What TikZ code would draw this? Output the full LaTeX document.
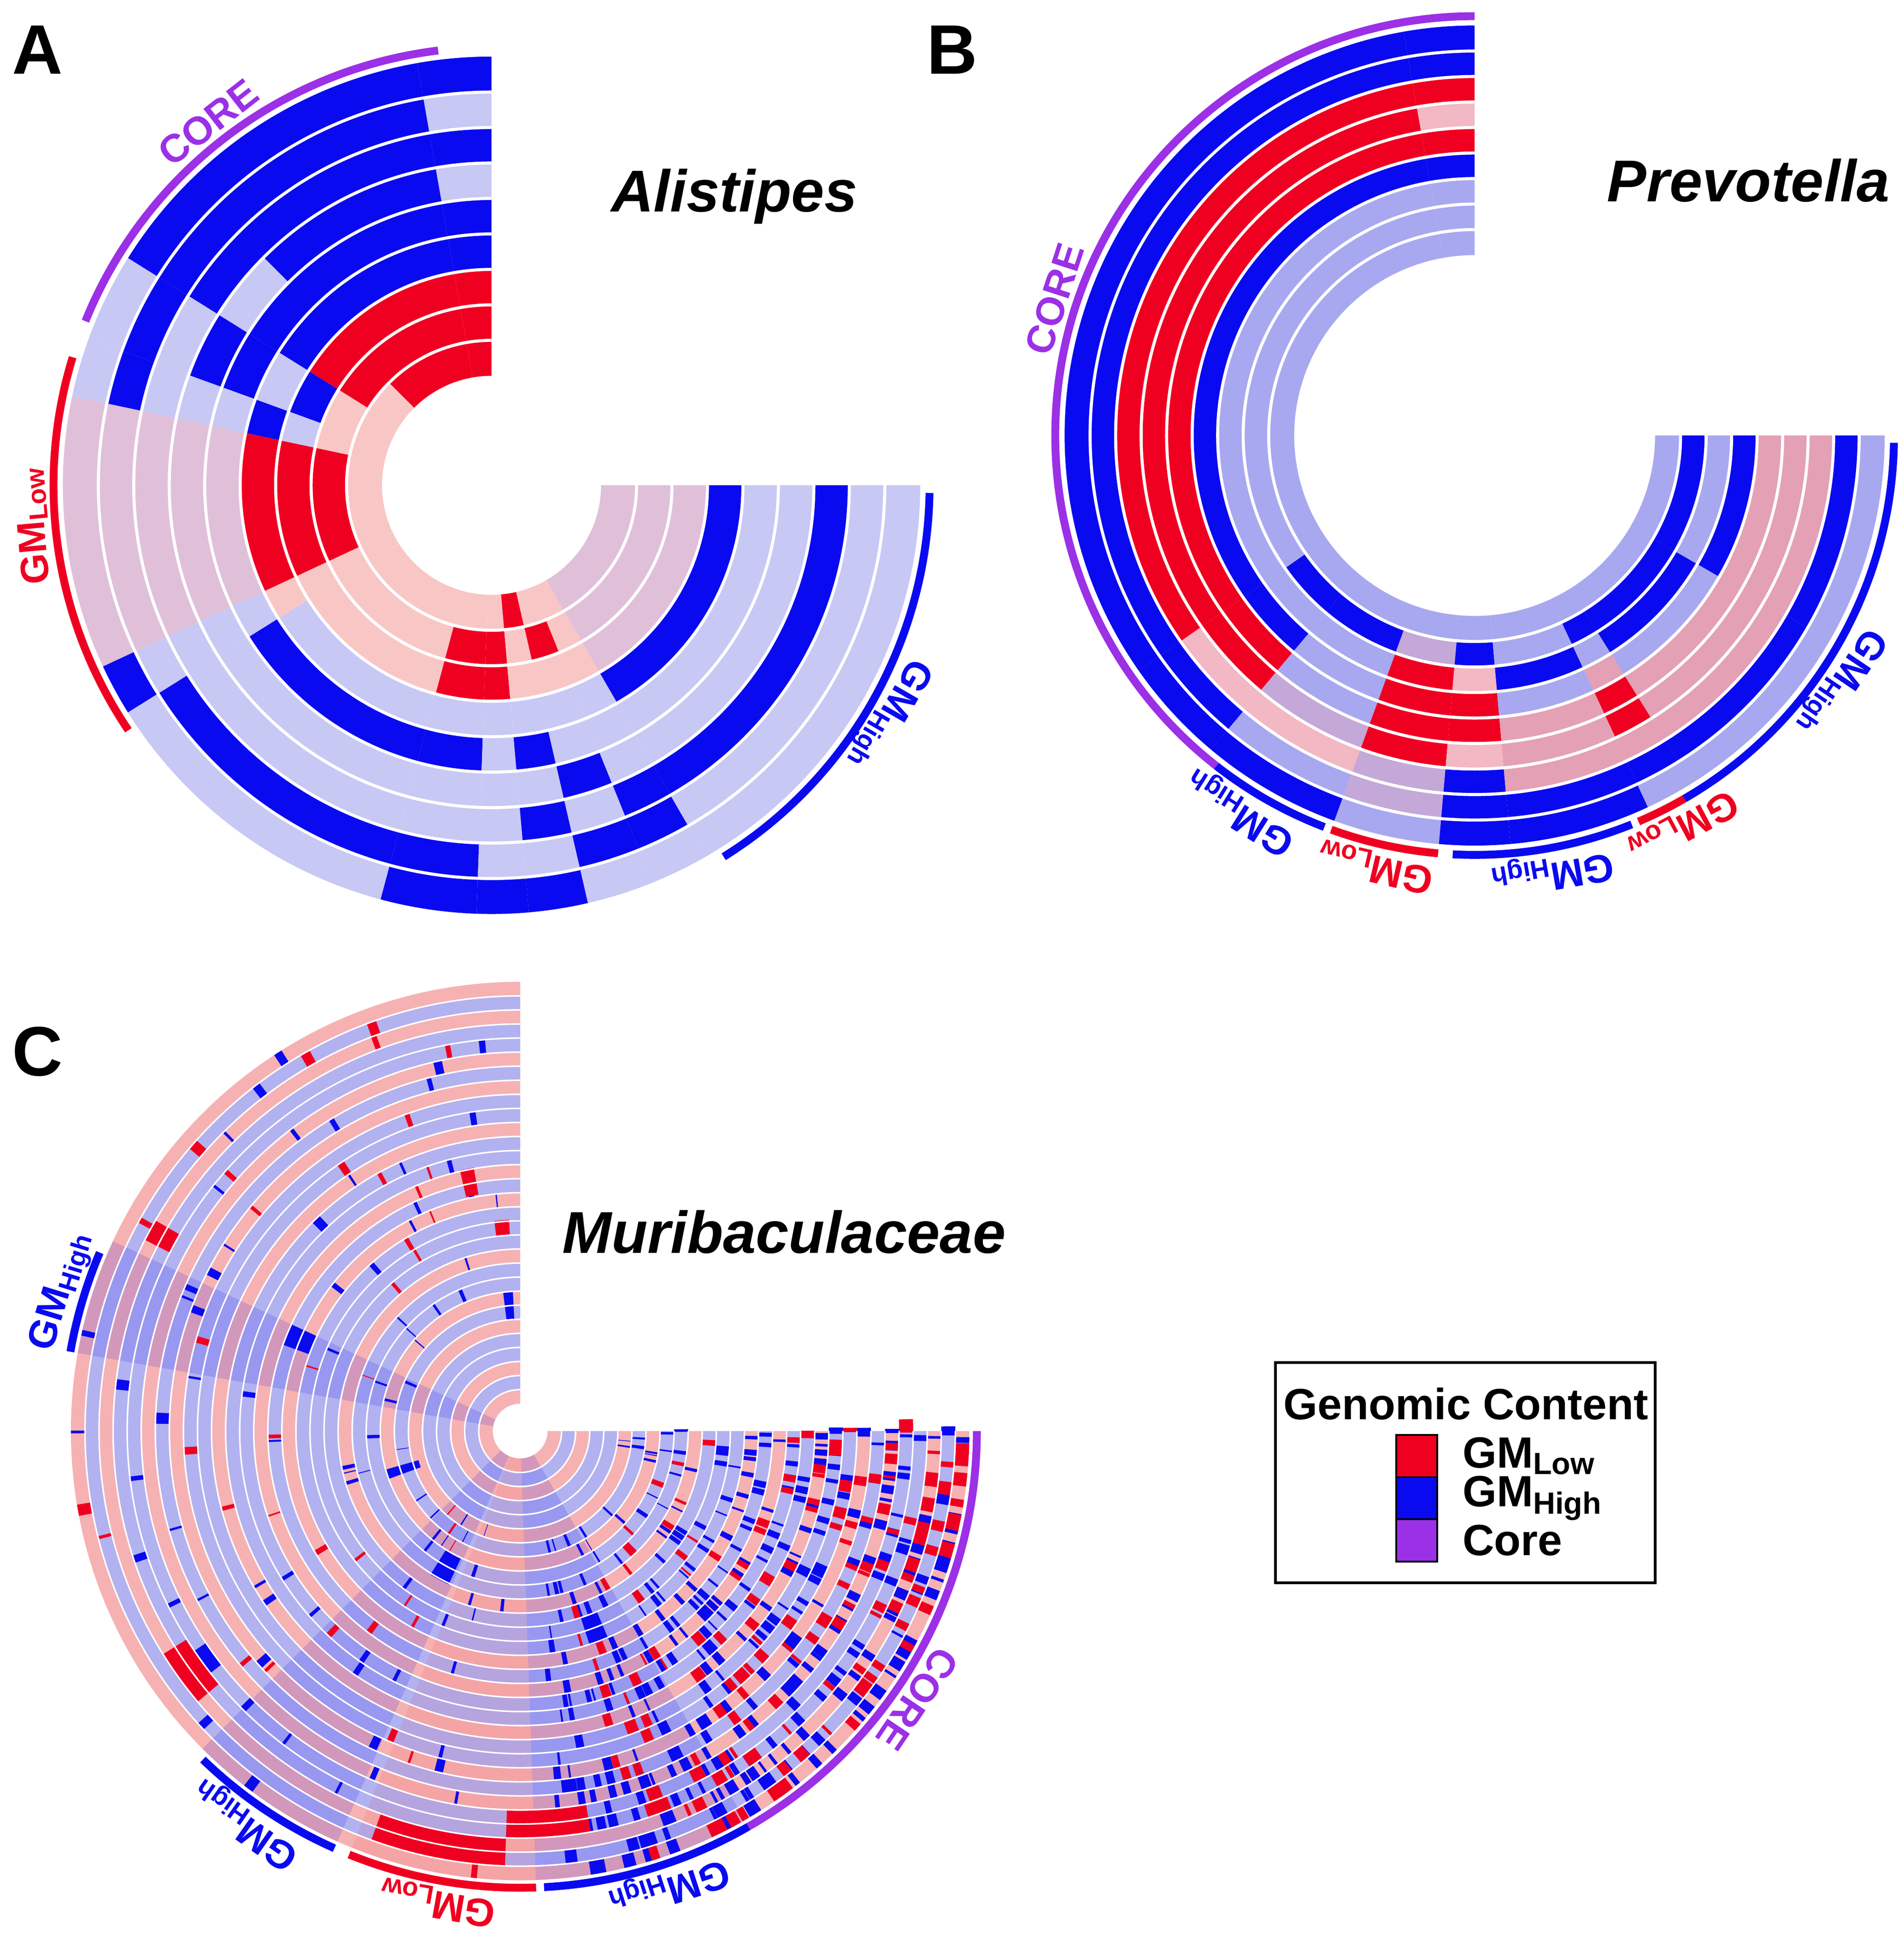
\documentclass[tikz,border=0pt]{standalone}
\usepackage{fontspec}
\setmainfont{Liberation Sans}
\definecolor{R}{HTML}{F00020}
\definecolor{B}{HTML}{0A0AF0}
\definecolor{LB}{HTML}{C8C8F4}
\definecolor{LR}{HTML}{F9C6C6}
\definecolor{LP}{HTML}{E0C0D8}
\definecolor{LV}{HTML}{A8A8F0}
\definecolor{PK}{HTML}{E4A0B4}
\definecolor{LK}{HTML}{F2B8C4}
\definecolor{MP}{HTML}{C4A8D8}
\definecolor{P}{HTML}{F6B2B2}
\definecolor{L}{HTML}{B2B2F0}
\definecolor{CP}{HTML}{9B30E6}
\newcommand\ringsect[3]{%
 \foreach \cc [count=\ii] in {#3}{%
  \pgfmathsetmacro\ra{\rin+(\ii-1)*\rw}\pgfmathsetmacro\rb{\ra+\rw}%
  \fill[\cc] ({\cx+\ra*cos(#1)},{\cy+\ra*sin(#1)}) arc[start angle=#1,end angle=#2,radius=\ra*0.01cm] -- ({\cx+\rb*cos(#2)},{\cy+\rb*sin(#2)}) arc[start angle=#2,end angle=#1,radius=\rb*0.01cm] -- cycle;}}
\newcommand\seg[5]{%
  \fill[#5] ({\cx+#3*cos(#1)},{\cy+#3*sin(#1)}) arc[start angle=#1,end angle=#2,radius=#3*0.01cm] -- ({\cx+#4*cos(#2)},{\cy+#4*sin(#2)}) arc[start angle=#2,end angle=#1,radius=#4*0.01cm] -- cycle;}
\newcommand\ringlines[1]{%
  \foreach \ii in {1,...,#1}{\pgfmathsetmacro\ra{\rin+\ii*\rw}%
  \draw[white,line width=\gapw] ({\cx+\ra*cos(90)},{\cy+\ra*sin(90)}) arc[start angle=90,end angle=360,radius=\ra*0.01cm];}}
\newcommand\larc[4]{\draw[#4,line width=1.8pt] ({\cx+#3*cos(#1)},{\cy+#3*sin(#1)}) arc[start angle=#1,end angle=#2,radius=#3*0.01cm];}
\newcommand\plab[5]{\node[lbl,text=#3,rotate=#1-90] (#5) at ({\cx+#2*cos(#1)},{\cy+#2*sin(#1)}) {#4};}
\tikzset{lbl/.style={font=\bfseries\fontsize{9}{11}\selectfont,inner sep=0pt},
 ttl/.style={font=\bfseries\itshape\fontsize{13.5}{16}\selectfont},
 letr/.style={font=\bfseries\fontsize{16}{19}\selectfont},
 lgd/.style={font=\bfseries\fontsize{10}{12}\selectfont}}
\begin{document}
\begin{tikzpicture}[x=0.01cm,y=0.01cm]
\useasboundingbox (0,0) rectangle (1530,1563);
% ---------- Panel A
\def\cx{395}\def\cy{1173}\def\rin{88}\def\rw{28.5}\def\gapw{0.7pt}
\ringsect{90}{100}{R,R,R,B,B,LB,B,LB,B}
\ringsect{100}{135}{R,R,R,B,B,B,B,B,B}
\ringsect{135}{148}{LR,R,R,B,B,LB,B,B,B}
\ringsect{148}{160}{LR,LR,B,LB,B,B,LB,B,LB}
\ringsect{160}{168}{LR,LR,LB,B,LB,LB,LB,B,LB}
\ringsect{168}{205}{LR,R,R,R,LP,LP,LP,LP,LP}
\ringsect{205}{212}{LR,LR,LR,LR,LB,LB,LB,LB,B}
\ringsect{212}{255}{LR,LR,LR,LB,B,LB,LB,B,LB}
\ringsect{255}{268}{LR,R,R,LB,B,LB,LB,B,B}
\ringsect{268}{275}{LR,R,R,LB,LB,LB,LB,LB,B}
\ringsect{275}{283}{R,LR,LR,LB,B,LB,B,LB,B}
\ringsect{283}{292}{LR,R,LR,LB,LB,B,LB,B,LB}
\ringsect{292}{300}{LR,LR,LR,LB,LB,LB,B,B,LB}
\ringsect{300}{360}{LP,LP,LP,B,LB,LB,B,LB,LB}
\ringlines{8}
\larc{97}{158}{352}{CP}\larc{163}{214}{352}{R}\larc{302}{359}{352}{B}
\plab{128}{370}{CP}{CORE}{a1}
\plab{185}{370}{R}{GM\textsubscript{Low}}{a2}
\plab{330}{368}{B}{GM\textsubscript{High}}{a3}
% ---------- Panel B
\def\cx{1185}\def\cy{1213}\def\rin{145}\def\rw{20.5}
\ringsect{90}{100}{LV,LV,LV,B,R,LK,R,B,B}
\ringsect{100}{215}{LV,LV,LV,B,R,R,R,B,B}
\ringsect{215}{230}{LV,B,LV,B,R,R,LK,B,B}
\ringsect{230}{250}{LV,B,LV,LV,LV,MP,LK,LV,B}
\ringsect{250}{265}{LV,MP,R,R,R,R,MP,MP,LV}
\ringsect{265}{275}{LV,B,LK,R,R,LK,B,B,B}
\ringsect{275}{295}{LV,LV,B,LV,PK,PK,PK,B,B}
\ringsect{295}{302}{LV,B,LV,PK,R,R,PK,B,LV}
\ringsect{302}{330}{LV,B,B,LV,PK,PK,PK,B,LV}
\ringsect{330}{360}{LV,B,LV,B,PK,PK,PK,B,LV}
\ringlines{8}
\larc{90}{232}{337}{CP}\larc{232}{249}{337}{B}\larc{250}{265}{337}{R}
\larc{267}{292}{337}{B}\larc{293}{300}{337}{R}\larc{300}{359}{337}{B}
\plab{162}{355}{CP}{CORE}{b1}
\plab{238}{356}{B}{GM\textsubscript{High}}{b2}
\plab{257}{356}{R}{GM\textsubscript{Low}}{b3}
\plab{280}{356}{B}{GM\textsubscript{High}}{b4}
\plab{298}{356}{R}{GM\textsubscript{Low}}{b5}
\plab{326}{354}{B}{GM\textsubscript{High}}{b6}
% ---------- Panel C
\def\cx{418}\def\cy{413}\def\rin{22}\def\rw{11.3}\def\gapw{0.35pt}
\ringsect{90}{360}{P,L,P,L,L,P,L,P,L,L,P,L,L,L,P,L,P,L,L,P,L,L,P,L,P,L,L,P,L,P}
\seg{155}{170}{22}{361}{B,opacity=0.15}
\seg{225}{246}{22}{361}{B,opacity=0.15}
\seg{248}{272}{22}{361}{R,opacity=0.08}
\seg{272}{300}{22}{361}{B,opacity=0.15}
\pgfmathsetseed{12}
\foreach \k in {1,...,420}{%
  \pgfmathsetmacro\aa{275+85*rnd}\pgfmathsetmacro\rr{int(3+27*sqrt(rnd))}%
  \pgfmathsetmacro\ab{\aa+0.3+1.2*rnd}\pgfmathsetmacro\ra{\rin+\rr*\rw}\pgfmathsetmacro\rb{\ra+\rw}%
  \seg{\aa}{\ab}{\ra}{\rb}{B}}
\foreach \k in {1,...,160}{%
  \pgfmathsetmacro\aa{285+75*rnd}\pgfmathsetmacro\rr{int(6+24*sqrt(rnd))}%
  \pgfmathsetmacro\ab{\aa+0.4+1.8*rnd}\pgfmathsetmacro\ra{\rin+\rr*\rw}\pgfmathsetmacro\rb{\ra+\rw}%
  \seg{\aa}{\ab}{\ra}{\rb}{R}}
\foreach \k in {1,...,90}{%
  \pgfmathsetmacro\aa{95+170*rnd}\pgfmathsetmacro\rr{int(5+25*rnd)}%
  \pgfmathsetmacro\ab{\aa+0.3+1.2*rnd}\pgfmathsetmacro\ra{\rin+\rr*\rw}\pgfmathsetmacro\rb{\ra+\rw}%
  \seg{\aa}{\ab}{\ra}{\rb}{B}}
\foreach \k in {1,...,40}{%
  \pgfmathsetmacro\aa{95+170*rnd}\pgfmathsetmacro\rr{int(5+25*rnd)}%
  \pgfmathsetmacro\ab{\aa+0.3+1.2*rnd}\pgfmathsetmacro\ra{\rin+\rr*\rw}\pgfmathsetmacro\rb{\ra+\rw}%
  \seg{\aa}{\ab}{\ra}{\rb}{R}}
\seg{250}{268}{327}{350}{R}
\seg{268}{280}{305}{327}{R}
\seg{288}{293}{158}{181}{B}
\seg{238}{245}{113}{136}{B}
\seg{212}{220}{316}{339}{R}
\seg{214}{218}{305}{316}{B}
\seg{196}{200}{85}{112}{B}
\seg{155}{160}{180}{203}{B}
\seg{100}{103}{193}{215}{R}
\seg{93}{97}{90}{112}{B}
\seg{93}{97}{158}{170}{R}
\seg{150}{153}{316}{339}{R}
\ringlines{29}
\larc{157}{170}{367}{B}\larc{226}{246}{367}{B}\larc{248}{272}{367}{R}
\larc{273}{300}{367}{B}\larc{300}{360}{367}{CP}
\plab{163}{385}{B}{GM\textsubscript{High}}{c1}
\plab{235}{385}{B}{GM\textsubscript{High}}{c2}
\plab{260}{385}{R}{GM\textsubscript{Low}}{c3}
\plab{288}{385}{B}{GM\textsubscript{High}}{c4}
\plab{326}{385}{CP}{CORE}{c5}
% ---------- titles
\node[letr] (LA) at (30,1523) {A};
\node[letr] (LB) at (765,1523) {B};
\node[letr] (LC) at (30,718) {C};
\node[ttl] (TA) at (590,1405) {Alistipes};
\node[ttl] (TB) at (1405,1418) {Prevotella};
\node[ttl] (TC) at (630,573) {Muribaculaceae};
% ---------- legend
\draw[line width=0.6pt] (1025,291) rectangle (1330,468);
\node[lgd] (lt) at (1178,435) {Genomic Content};
\draw[fill=R] (1122,376) rectangle (1155,410);
\draw[fill=B] (1122,342) rectangle (1155,376);
\draw[fill=CP] (1122,308) rectangle (1155,342);
\node[anchor=west,lgd] (l1) at (1163,393) {GM\textsubscript{Low}};
\node[anchor=west,lgd] (l2) at (1163,359) {GM\textsubscript{High}};
\node[anchor=west,lgd] (l3) at (1163,325) {Core};
\end{tikzpicture}
\end{document}
